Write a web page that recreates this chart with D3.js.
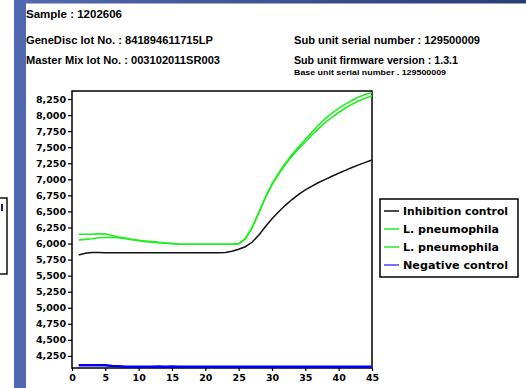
<!DOCTYPE html>
<html><head><meta charset="utf-8">
<script src="https://cdn.jsdelivr.net/npm/d3@7"></script>
<style>html,body{margin:0;padding:0;background:#fff;}svg{display:block;}</style>
</head><body>
<svg id="c" width="526" height="388"></svg>
<script>
const cycles = d3.range(1, 46);
const inhibition = [5822,5850,5862,5860,5858,5856,5855,5855,5855,5855,5855,5855,5855,5855,5855,5855,5855,5855,5855,5855,5856,5858,5862,5880,5910,5950,6020,6130,6260,6385,6495,6595,6685,6765,6835,6895,6950,7000,7048,7095,7140,7183,7225,7263,7300];
const pneumo1 = [6145,6145,6145,6150,6150,6125,6100,6085,6065,6050,6040,6030,6018,6008,6000,5993,5990,5990,5990,5990,5990,5990,5990,5992,6000,6080,6250,6480,6720,6930,7100,7250,7385,7505,7620,7735,7845,7945,8030,8105,8170,8228,8280,8320,8352];
const pneumo2 = [6055,6065,6075,6090,6095,6095,6090,6075,6060,6045,6030,6020,6012,6005,5998,5990,5990,5990,5990,5990,5990,5990,5990,5990,5995,6070,6240,6470,6710,6915,7080,7230,7360,7475,7585,7690,7790,7885,7965,8040,8110,8170,8222,8262,8300];
const negative = [4105,4105,4105,4105,4105,4095,4090,4082,4082,4082,4082,4082,4085,4082,4085,4082,4082,4082,4082,4082,4082,4082,4082,4082,4082,4082,4082,4082,4082,4082,4082,4082,4080,4080,4080,4080,4080,4080,4080,4080,4080,4080,4080,4080,4080];
const yTicks = d3.range(4250, 8251, 250);
const xTicks = d3.range(0, 46, 5);
const seriesNames = ["Inhibition control","L. pneumophila","L. pneumophila","Negative control"];
const seriesColors = ["#111111","#22ee22","#22ee22","#0000ee"];
const legendColors = ["#111111","#22ee22","#22ee22","#4444ff"];
const headerLeft = ["Sample : 1202606","GeneDisc lot No. : 841894611715LP","Master Mix lot No. : 003102011SR003"];
const headerRight = ["Sub unit serial number  : 129500009","Sub unit firmware version : 1.3.1"];
const baseUnit = "Base unit serial number . 129500009";

const svg = d3.select("#c");
// decoration
const defs = svg.append("defs");
const g = defs.append("linearGradient").attr("id","tg").attr("x1","0").attr("x2","1");
g.append("stop").attr("offset","0").attr("stop-color","#5269b0");
g.append("stop").attr("offset","1").attr("stop-color","#2a3c78");
svg.append("rect").attr("x",14).attr("y",0).attr("width",12).attr("height",388).attr("fill","#5068ae");
svg.append("rect").attr("x",26).attr("y",0).attr("width",500).attr("height",3.5).attr("fill","url(#tg)");
svg.append("rect").attr("x",-5).attr("y",198).attr("width",12).attr("height",76).attr("fill","none").attr("stroke","#111").attr("stroke-width",1.5);
svg.append("rect").attr("x",1).attr("y",204).attr("width",2).attr("height",7).attr("fill","#1a1a66");

// header texts
const hl = [[26,18,96,10],[26,44,187,10],[26,64,194,10]];
headerLeft.forEach((t,i)=>{
  svg.append("text").attr("x",hl[i][0]).attr("y",hl[i][1]).attr("textLength",hl[i][2]).attr("lengthAdjust","spacingAndGlyphs")
    .attr("font-family","Liberation Sans, Arial, sans-serif").attr("font-size",hl[i][3]).attr("font-weight","bold").attr("fill","#000").text(t);
});
const hr = [[294,44,186],[294,64,164]];
headerRight.forEach((t,i)=>{
  svg.append("text").attr("x",hr[i][0]).attr("y",hr[i][1]).attr("textLength",hr[i][2]).attr("lengthAdjust","spacingAndGlyphs")
    .attr("font-family","Liberation Sans, Arial, sans-serif").attr("font-size",10).attr("font-weight","bold").attr("fill","#000").text(t);
});
svg.append("text").attr("x",294).attr("y",75).attr("textLength",152).attr("lengthAdjust","spacingAndGlyphs")
  .attr("font-family","Liberation Sans, Arial, sans-serif").attr("font-size",7.5).attr("font-weight","bold").attr("fill","#000").text(baseUnit);

const x = d3.scaleLinear().domain([0,45]).range([72,372]);
const y = d3.scaleLinear().domain([4062,8375]).range([368,91]);

// axes
const ya = svg.append("g").attr("transform","translate(72,0)").call(d3.axisLeft(y).tickValues(yTicks).tickSize(4).tickPadding(2).tickFormat(d3.format(",")));
const xa = svg.append("g").attr("transform","translate(0,368)").call(d3.axisBottom(x).tickValues(xTicks).tickSize(3).tickPadding(3));
[ya,xa].forEach(a=>{
  a.select(".domain").remove();
  a.selectAll(".tick line").attr("stroke","#000").attr("stroke-width",1.2);
  a.selectAll("text").attr("font-family","DejaVu Sans, Verdana, sans-serif").attr("font-size",9.5).attr("font-weight","bold").attr("fill","#000");
});

// frame
svg.append("rect").attr("x",72).attr("y",91).attr("width",300).attr("height",277).attr("fill","none").attr("stroke","#000").attr("stroke-width",1.5);

// lines
const data = [inhibition,pneumo1,pneumo2,negative];
const line = d3.line().x((d,i)=>x(cycles[i])).y(d=>y(d));
const widths = [1.5,1.6,1.6,2.5];
[3,0,2,1].forEach(k=>{
  svg.append("path").datum(data[k]).attr("d",line).attr("fill","none").attr("stroke",seriesColors[k]).attr("stroke-width",widths[k]);
});

// legend
svg.append("rect").attr("x",380).attr("y",199).attr("width",138).attr("height",78).attr("fill","#fff").attr("stroke","#000").attr("stroke-width",1.5);
const lw = [105,96,96,105];
seriesNames.forEach((n,i)=>{
  const cy = 211 + i*18;
  svg.append("line").attr("x1",384).attr("x2",399).attr("y1",cy).attr("y2",cy).attr("stroke",legendColors[i]).attr("stroke-width",1.5);
  svg.append("text").attr("x",403).attr("y",cy+3.5).attr("textLength",lw[i]).attr("lengthAdjust","spacingAndGlyphs")
    .attr("font-family","DejaVu Sans, Verdana, sans-serif").attr("font-size",10).attr("font-weight","bold").attr("fill","#000").text(n);
});
</script>
</body></html>
